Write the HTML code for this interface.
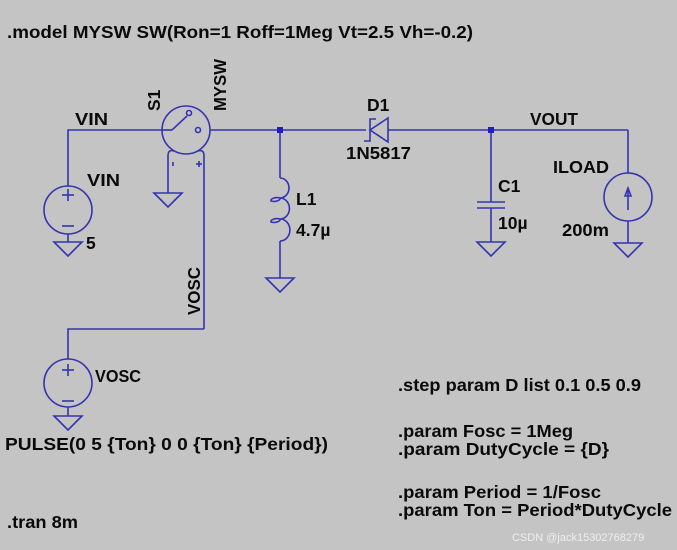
<!DOCTYPE html>
<html><head><meta charset="utf-8"><style>
html,body{margin:0;padding:0;background:#c4c4c4;}
svg{display:block;}
text{font-family:"Liberation Sans",sans-serif;font-weight:bold;fill:#0a0a0a;}
</style></head><body>
<svg width="677" height="550" viewBox="0 0 677 550" xmlns="http://www.w3.org/2000/svg">
<rect width="677" height="550" fill="#c4c4c4"/>
<g stroke="#3434b0" stroke-width="1.6" fill="none">
<polyline points="68,186 68,130 162,130"/>
<line x1="210" y1="130" x2="366" y2="130"/>
<line x1="388" y1="130" x2="628" y2="130"/>
<line x1="628" y1="130" x2="628" y2="173"/>
<circle cx="68" cy="210" r="24"/>
<line x1="68" y1="234" x2="68" y2="242"/>
<line x1="62" y1="195" x2="74" y2="195"/><line x1="68" y1="189" x2="68" y2="201"/>
<line x1="62" y1="226" x2="74" y2="226"/>
<polygon points="54,242 82,242 68,256"/>
<circle cx="186" cy="130" r="24"/>
<line x1="162" y1="130" x2="172" y2="130"/>
<line x1="172" y1="130" x2="187" y2="116"/>
<circle cx="189" cy="113" r="2.5"/>
<circle cx="198" cy="130" r="2.5"/>
<path d="M168,188 L168,156 Q168,149 174,151"/>
<path d="M204,329 L204,156 Q204,149 198,151"/>
<line x1="173" y1="162" x2="173" y2="166"/>
<line x1="196" y1="164" x2="202" y2="164"/><line x1="199" y1="161" x2="199" y2="167"/>
<polygon points="154,193 182,193 168,207"/>
<line x1="168" y1="188" x2="168" y2="193"/>
<polyline points="204,329 68,329 68,359"/>
<circle cx="68" cy="383" r="24"/>
<line x1="62" y1="370" x2="74" y2="370"/><line x1="68" y1="364" x2="68" y2="376"/>
<line x1="62" y1="401" x2="74" y2="401"/>
<line x1="68" y1="407" x2="68" y2="416"/>
<polygon points="54,416 82,416 68,430"/>
<line x1="280" y1="130" x2="280" y2="178"/>
<path d="M280,178 A9,10 0 0 1 280,198 A9,10 0 0 1 280,219 A9,10 0 0 1 280,241"/>
<path d="M280,198 A6,3 0 0 1 271,201 A6,3 0 0 1 280,198" />
<path d="M280,219 A6,3 0 0 1 271,222 A6,3 0 0 1 280,219" />
<line x1="280" y1="241" x2="280" y2="278"/>
<polygon points="266,278 294,278 280,292"/>
<polygon points="388,118 388,142 370,130"/>
<polyline points="364,141 370,141 370,119 376,119"/>
<line x1="491" y1="130" x2="491" y2="202"/>
<line x1="477" y1="202" x2="505" y2="202"/>
<line x1="477" y1="208" x2="505" y2="208"/>
<line x1="491" y1="208" x2="491" y2="242"/>
<polygon points="477,242 505,242 491,256"/>
<circle cx="628" cy="197" r="24"/>
<line x1="628" y1="210" x2="628" y2="190"/>
<polygon points="625,196 631,196 628,188"/>
<line x1="628" y1="221" x2="628" y2="243"/>
<polygon points="614,243 642,243 628,257"/>
</g>
<rect x="277" y="127" width="6" height="6" fill="#2020c0"/>
<rect x="488" y="127" width="6" height="6" fill="#2020c0"/>
<g font-size="17.5">
<text x="7" y="38" textLength="466" lengthAdjust="spacingAndGlyphs">.model MYSW SW(Ron=1 Roff=1Meg Vt=2.5 Vh=-0.2)</text>
<text x="75" y="125" textLength="33" lengthAdjust="spacingAndGlyphs">VIN</text>
<text x="87" y="186" textLength="33" lengthAdjust="spacingAndGlyphs">VIN</text>
<text x="86" y="249">5</text>
<text transform="translate(160,111) rotate(-90)">S1</text>
<text transform="translate(226,111) rotate(-90)" textLength="52" lengthAdjust="spacingAndGlyphs">MYSW</text>
<text transform="translate(200,315) rotate(-90)" textLength="48" lengthAdjust="spacingAndGlyphs">VOSC</text>
<text x="95" y="382" textLength="46" lengthAdjust="spacingAndGlyphs">VOSC</text>
<text x="296" y="205">L1</text>
<text x="296" y="236">4.7µ</text>
<text x="367" y="111">D1</text>
<text x="346" y="159" textLength="65" lengthAdjust="spacingAndGlyphs">1N5817</text>
<text x="530" y="125" textLength="48" lengthAdjust="spacingAndGlyphs">VOUT</text>
<text x="498" y="192">C1</text>
<text x="498" y="229">10µ</text>
<text x="553" y="173" textLength="56" lengthAdjust="spacingAndGlyphs">ILOAD</text>
<text x="562" y="236" textLength="47" lengthAdjust="spacingAndGlyphs">200m</text>
<text x="5" y="450" textLength="323" lengthAdjust="spacingAndGlyphs">PULSE(0 5 {Ton} 0 0 {Ton} {Period})</text>
<text x="7" y="528" textLength="71" lengthAdjust="spacingAndGlyphs">.tran 8m</text>
<text x="398" y="391" textLength="243" lengthAdjust="spacingAndGlyphs">.step param D list 0.1 0.5 0.9</text>
<text x="398" y="437" textLength="175" lengthAdjust="spacingAndGlyphs">.param Fosc = 1Meg</text>
<text x="398" y="455" textLength="211" lengthAdjust="spacingAndGlyphs">.param DutyCycle = {D}</text>
<text x="398" y="498" textLength="203" lengthAdjust="spacingAndGlyphs">.param Period = 1/Fosc</text>
<text x="398" y="516" textLength="274" lengthAdjust="spacingAndGlyphs">.param Ton = Period*DutyCycle</text>
</g>
<text x="512" y="541" font-size="11" style="font-weight:normal;fill:#eeeeee">CSDN @jack15302768279</text>
</svg>
</body></html>
